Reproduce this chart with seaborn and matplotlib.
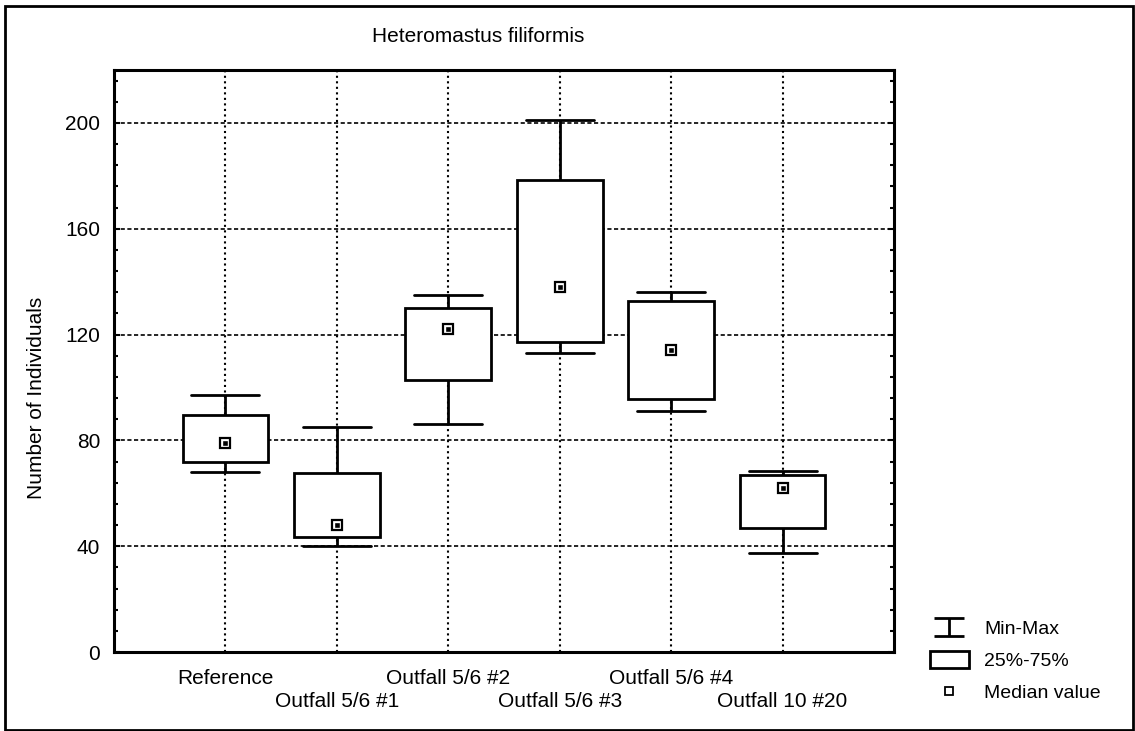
import numpy as np
import pandas as pd
import matplotlib
matplotlib.use("Agg")
import matplotlib.pyplot as plt
from matplotlib.path import Path
from matplotlib.lines import Line2D
from matplotlib.patches import Patch, Rectangle
from matplotlib.ticker import MultipleLocator
import seaborn as sns

# summary values
groups = ["Reference", "Outfall 5/6 #1", "Outfall 5/6 #2",
          "Outfall 5/6 #3", "Outfall 5/6 #4", "Outfall 10 #20"]
mins = [68, 40, 86, 113, 91, 37.5]
q1 = [72, 43.5, 103, 117, 95.5, 47]
medians = [79, 48, 122, 138, 114, 62]
q3 = [89.5, 67.5, 130, 178.5, 132.5, 67]
maxs = [97, 85, 135, 201, 136, 68.5]

# five points per group -> quartiles land exactly on q1/median/q3
rows = []
for g, a, b, c, d, e in zip(groups, mins, q1, medians, q3, maxs):
    for v in (a, b, c, d, e):
        rows.append({"group": g, "value": v})
df = pd.DataFrame(rows)

sns.set_style("ticks")
plt.rcParams['font.family'] = ['Liberation Sans', 'DejaVu Sans']
plt.rcParams['font.size'] = 15
for k in ("axes.edgecolor", "text.color", "xtick.color", "ytick.color",
          "axes.labelcolor"):
    plt.rcParams[k] = "black"

fig = plt.figure(figsize=(11.35, 7.31), dpi=100)
ax = fig.add_axes([114 / 1135, 1 - 652 / 731, 780 / 1135, 582 / 731])

sns.boxplot(data=df, x="group", y="value", order=groups, whis=(0, 100),
            width=0.77, color="white", linecolor="black", linewidth=2,
            showfliers=False, medianprops={"visible": False},
            capwidths=0.61, ax=ax, zorder=3)

sns.pointplot(x=groups, y=medians, order=groups, linestyle="none",
              marker="s", markersize=7.5, markerfacecolor="white",
              markeredgecolor="black", markeredgewidth=1.6, color="black",
              errorbar=None, ax=ax, zorder=5)
sns.pointplot(x=groups, y=medians, order=groups, linestyle="none",
              marker="s", markersize=1.3, color="black",
              errorbar=None, ax=ax, zorder=6)

ax.set_xlim(-1, 6)
ax.set_ylim(0, 220)
ax.yaxis.set_major_locator(MultipleLocator(40))
ax.yaxis.set_minor_locator(MultipleLocator(8))

# staggered category labels: even ones on the first row, odd ones below
pos = list(range(len(groups)))
ax.set_xticks(pos[0::2], groups[0::2])
ax.set_xticks(pos[1::2], groups[1::2], minor=True)
ax.tick_params(axis="x", which="both", length=0, labelsize=15)
ax.tick_params(axis="x", which="major", pad=12)
ax.tick_params(axis="x", which="minor", pad=29)
ax.tick_params(axis="y", which="both", direction="in", right=True,
               width=1.5, pad=10, labelsize=15)
ax.tick_params(axis="y", which="major", length=4)
ax.tick_params(axis="y", which="minor", length=3)

ax.yaxis.grid(True, which="major", linestyle=(0, (2.5, 1.5)), color="black",
              linewidth=1.2, zorder=0)
ax.xaxis.grid(True, which="both", linestyle=":", color="black",
              linewidth=1.5, zorder=0)
ax.set_axisbelow(True)
for s in ax.spines.values():
    s.set_linewidth(2.2)
    s.set_visible(True)

ax.set_xlabel("")
ax.set_ylabel("")
fig.text(37 / 1135, 1 - 398 / 731, "Number of Individuals", rotation=90,
         ha="center", va="center", fontsize=15)
fig.text(478 / 1135, 1 - 36 / 731, "Heteromastus filiformis",
         ha="center", va="center", fontsize=15)

# legend symbols
ibeam = Path([(-1, 0.6), (1, 0.6), (0, 0.6), (0, -0.6), (-1, -0.6), (1, -0.6)],
             [Path.MOVETO, Path.LINETO, Path.MOVETO, Path.LINETO, Path.MOVETO, Path.LINETO])
h_minmax = Line2D([], [], marker=ibeam, markersize=22, markeredgewidth=2,
                  markerfacecolor="none", color="black", linestyle="none")
h_box = Patch(facecolor="white", edgecolor="black", linewidth=2)
h_med = Line2D([], [], marker="s", markersize=5.5, markerfacecolor="white",
               markeredgecolor="black", markeredgewidth=1.3, linestyle="none")
fig.legend([h_minmax, h_box, h_med], ["Min-Max", "25%-75%", "Median value"],
           loc="upper left", bbox_to_anchor=(930 / 1135, 1 - 619 / 731),
           frameon=False, fontsize=14, handlelength=2.0, handleheight=1.0,
           handletextpad=0.8, labelspacing=0.65, borderpad=0, borderaxespad=0)

# outer frame round the whole picture
fig.patches.append(Rectangle((5 / 1135, 1.5 / 731), 1128 / 1135, 723.5 / 731,
                             transform=fig.transFigure, fill=False,
                             linewidth=2, edgecolor="black"))

fig.savefig("out.png", dpi=100, facecolor="white")
